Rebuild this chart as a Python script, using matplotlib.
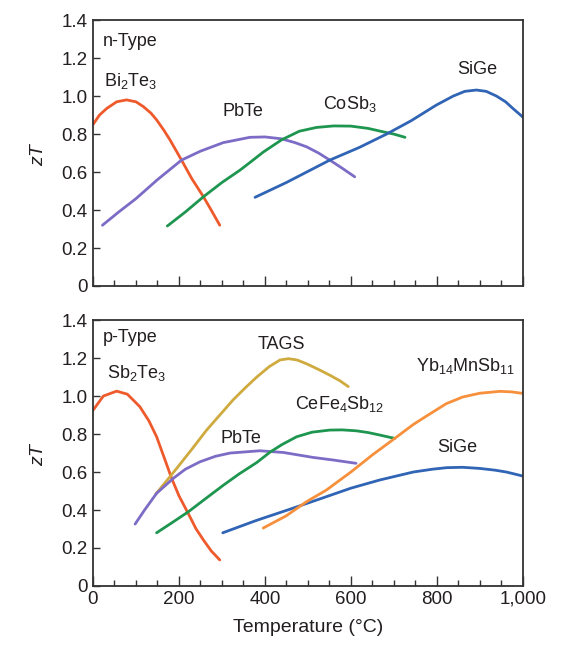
import matplotlib
matplotlib.use('Agg')
import matplotlib.pyplot as plt
from matplotlib import font_manager
from matplotlib.ticker import MultipleLocator, FuncFormatter

# font: narrow Helvetica-like if available
names = {f.name for f in font_manager.fontManager.ttflist}
FONT = 'Liberation Sans Narrow' if 'Liberation Sans Narrow' in names else 'Liberation Sans'
plt.rcParams['font.family'] = [FONT, 'DejaVu Sans']
plt.rcParams['mathtext.fontset'] = 'custom'
plt.rcParams['mathtext.rm'] = FONT
plt.rcParams['mathtext.it'] = FONT + ':italic'

#%% data, temperature in degC
# n-type
n_bite_t = [0, 15, 32, 55, 78, 100, 117, 135, 148, 165, 179, 206, 230, 257, 275, 295]
n_bite_zt = [0.85, 0.90, 0.935, 0.97, 0.98, 0.97, 0.945, 0.91, 0.875, 0.82, 0.77, 0.663,
             0.565, 0.47, 0.40, 0.32]
n_pbte_t = [22, 60, 100, 150, 206, 250, 303, 365, 400, 439, 470, 497, 525, 551, 580, 609]
n_pbte_zt = [0.32, 0.39, 0.46, 0.56, 0.663, 0.71, 0.755, 0.783, 0.785, 0.775, 0.755, 0.733,
             0.70, 0.663, 0.62, 0.575]
n_cosb_t = [173, 215, 257, 300, 342, 365, 396, 439, 480, 520, 560, 600, 640, 675, 700, 726]
n_cosb_zt = [0.316, 0.39, 0.47, 0.545, 0.61, 0.65, 0.705, 0.77, 0.815, 0.835, 0.843, 0.842,
             0.83, 0.812, 0.80, 0.783]
n_sige_t = [377, 450, 551, 620, 683, 740, 799, 838, 865, 892, 915, 939, 960, 977, 1000]
n_sige_zt = [0.467, 0.545, 0.663, 0.73, 0.80, 0.87, 0.953, 1.0, 1.025, 1.032, 1.025, 1.0,
             0.97, 0.935, 0.89]

# p-type
p_sbte_t = [0, 24, 55, 80, 109, 130, 148, 165, 183, 200, 222, 240, 257, 275, 295]
p_sbte_zt = [0.925, 1.0, 1.026, 1.01, 0.944, 0.87, 0.786, 0.68, 0.567, 0.475, 0.38, 0.30,
             0.242, 0.185, 0.137]
p_tags_t = [146, 170, 195, 230, 264, 295, 326, 355, 381, 410, 435, 455, 475, 497, 525, 551,
            575, 594]
p_tags_zt = [0.484, 0.55, 0.62, 0.72, 0.82, 0.90, 0.98, 1.045, 1.10, 1.155, 1.19, 1.197, 1.19,
             1.17, 1.14, 1.11, 1.08, 1.05]
p_pbte_t = [98, 120, 148, 187, 215, 249, 285, 319, 388, 443, 512, 560, 612]
p_pbte_zt = [0.326, 0.40, 0.488, 0.567, 0.615, 0.654, 0.683, 0.70, 0.712, 0.703, 0.677,
             0.663, 0.646]
p_cefe_t = [148, 185, 222, 262, 303, 340, 381, 412, 440, 474, 510, 551, 580, 613, 640, 667, 702]
p_cefe_zt = [0.28, 0.335, 0.391, 0.46, 0.53, 0.59, 0.65, 0.705, 0.745, 0.786, 0.81, 0.821,
             0.822, 0.817, 0.808, 0.795, 0.777]
p_sige_t = [302, 380, 458, 530, 600, 667, 745, 790, 823, 860, 900, 935, 962, 1000]
p_sige_zt = [0.28, 0.345, 0.404, 0.46, 0.515, 0.558, 0.60, 0.615, 0.623, 0.625, 0.619, 0.61,
             0.60, 0.579]
p_ybmn_t = [396, 450, 497, 543, 600, 650, 702, 745, 776, 822, 860, 900, 947, 975, 1000]
p_ybmn_zt = [0.305, 0.37, 0.444, 0.505, 0.60, 0.69, 0.777, 0.85, 0.895, 0.96, 0.995, 1.015,
             1.025, 1.022, 1.014]

RED = '#ee5a2c'
PURPLE = '#7d6cc6'
GREEN = '#1e9650'
BLUE = '#3064b4'
GOLD = '#cfaa3e'
ORANGE = '#f7903c'
TXT = '#231f20'


def style_axes(ax, show_x):
    ax.set_xlim(0, 1000)
    ax.set_ylim(0, 1.4)
    ax.xaxis.set_major_locator(MultipleLocator(200))
    ax.xaxis.set_minor_locator(MultipleLocator(50))
    ax.yaxis.set_major_locator(MultipleLocator(0.2))
    ax.tick_params(axis='both', which='both', direction='in', colors='#333333',
                   labelcolor=TXT, labelsize=13.5, top=False, right=False)
    ax.tick_params(axis='x', which='major', length=7, width=1)
    ax.tick_params(axis='x', which='minor', length=4, width=1)
    ax.tick_params(axis='y', which='major', length=5, width=1, pad=4)
    ax.yaxis.set_major_formatter(FuncFormatter(lambda v, p: '0' if abs(v) < 1e-9 else f'{v:.1f}'))
    if show_x:
        ax.xaxis.set_major_formatter(FuncFormatter(lambda v, p: f'{int(v):,}'))
    else:
        ax.tick_params(axis='x', labelbottom=False)
    for s in ax.spines.values():
        s.set_color('#333333')
        s.set_linewidth(1.3)
    ax.set_ylabel('$zT$', fontsize=14, color=TXT, labelpad=10)


fig = plt.figure(figsize=(5.67, 6.5), dpi=100)
ax1 = fig.add_axes([0.164, 0.560, 0.758, 0.409])
ax2 = fig.add_axes([0.164, 0.0985, 0.758, 0.409])

kw = dict(lw=2.0, solid_capstyle='round', solid_joinstyle='round')

# top panel: n-type
ax1.plot(n_bite_t, n_bite_zt, color=RED, **kw)
ax1.plot(n_pbte_t, n_pbte_zt, color=PURPLE, **kw)
ax1.plot(n_cosb_t, n_cosb_zt, color=GREEN, **kw)
ax1.plot(n_sige_t, n_sige_zt, color=BLUE, **kw)
style_axes(ax1, False)

tk = dict(fontsize=13, color=TXT)
ax1.text(23, 1.29, 'n-Type', va='center', ha='left', **tk)
ax1.text(26, 1.08, r'Bi$_2$Te$_3$', va='center', ha='left', **tk)
ax1.text(349, 0.92, 'PbTe', va='center', ha='center', **tk)
ax1.text(535, 0.96, r'CoSb$_3$', va='center', ha='left', **tk)
ax1.text(895, 1.14, 'SiGe', va='center', ha='center', **tk)

# bottom panel: p-type
ax2.plot(p_sbte_t, p_sbte_zt, color=RED, **kw)
ax2.plot(p_tags_t, p_tags_zt, color=GOLD, **kw)
ax2.plot(p_pbte_t, p_pbte_zt, color=PURPLE, **kw)
ax2.plot(p_cefe_t, p_cefe_zt, color=GREEN, **kw)
ax2.plot(p_sige_t, p_sige_zt, color=BLUE, **kw)
ax2.plot(p_ybmn_t, p_ybmn_zt, color=ORANGE, **kw)
style_axes(ax2, True)

ax2.text(22, 1.31, 'p-Type', va='center', ha='left', **tk)
ax2.text(32, 1.12, r'Sb$_2$Te$_3$', va='center', ha='left', **tk)
ax2.text(438, 1.27, 'TAGS', va='center', ha='center', **tk)
ax2.text(470, 0.96, r'CeFe$_4$Sb$_{12}$', va='center', ha='left', **tk)
ax2.text(344, 0.775, 'PbTe', va='center', ha='center', **tk)
ax2.text(752, 1.16, r'Yb$_{14}$MnSb$_{11}$', va='center', ha='left', **tk)
ax2.text(847, 0.73, 'SiGe', va='center', ha='center', **tk)

ax2.set_xlabel('Temperature (\u00b0C)', fontsize=14, color=TXT, labelpad=8)

fig.savefig('out.png', dpi=100, facecolor='white')
